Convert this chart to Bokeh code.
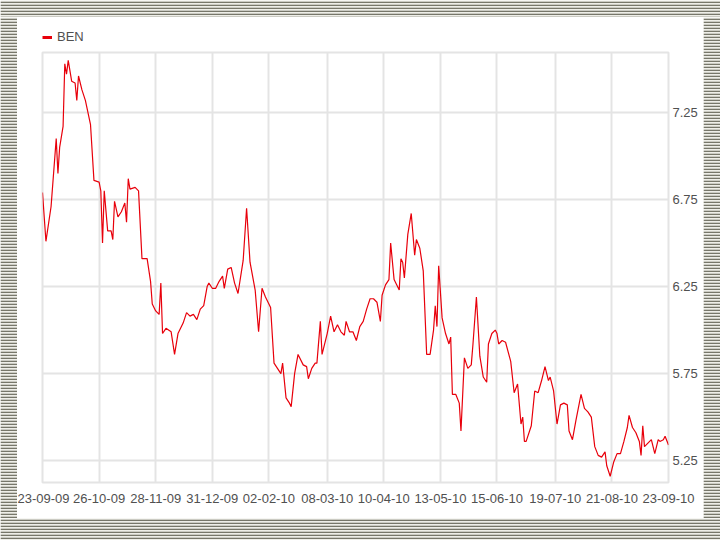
import pandas as pd
from bokeh.plotting import figure
from bokeh.layouts import column, row
from bokeh.models import (Range1d, FixedTicker, DatetimeTickFormatter, Legend, LegendItem,
                          BoxAnnotation, ColumnDataSource, PrintfTickFormatter)
from bokeh.embed import file_html
from bokeh.resources import INLINE

# ---- data ----
start_date = "2009-09-23"
end_date = "2010-09-23"
day_offsets = [0, 2, 5, 8, 9, 10, 12, 13, 14, 15, 17, 19, 20, 21, 23, 25, 28, 30, 33, 34,
               35, 36, 38, 40, 41, 42, 44, 46, 48, 49, 50, 51, 54, 56, 58, 61, 63, 64, 66, 68,
               69, 70, 72, 75, 77, 79, 82, 84, 86, 88, 90, 92, 94, 96, 97, 99, 101, 103, 105, 106,
               108, 110, 112, 114, 117, 119, 121, 124, 126, 128, 130, 133, 135, 137, 139, 140, 142, 144, 145, 147,
               149, 152, 154, 155, 157, 159, 160, 162, 163, 166, 168, 170, 172, 174, 176, 177, 179, 181, 183, 185,
               187, 189, 191, 193, 195, 197, 198, 200, 202, 203, 205, 208, 209, 210, 211, 213, 215, 217, 218, 220,
               222, 224, 226, 228, 229, 230, 231, 233, 235, 237, 238, 239, 241, 243, 244, 246, 248, 250, 251, 253,
               255, 257, 259, 260, 262, 264, 265, 266, 268, 270, 273, 275, 277, 279, 280, 281, 282, 285, 287, 289,
               291, 293, 295, 296, 298, 300, 302, 304, 306, 307, 309, 311, 314, 316, 318, 320, 322, 324, 326, 328,
               329, 331, 333, 335, 337, 339, 341, 342, 344, 346, 348, 349, 350, 351, 353, 355, 357, 359, 360, 362,
               363, 365]
ben_values = [6.79, 6.51, 6.71, 7.10, 6.90, 7.05, 7.17, 7.53, 7.47, 7.55, 7.43, 7.42, 7.32, 7.46, 7.38, 7.32, 7.18, 6.86, 6.85, 6.80,
              6.50, 6.80, 6.57, 6.57, 6.52, 6.74, 6.65, 6.68, 6.73, 6.62, 6.87, 6.81, 6.82, 6.80, 6.41, 6.41, 6.28, 6.15, 6.11, 6.09,
              6.27, 5.98, 6.01, 5.99, 5.86, 5.98, 6.04, 6.10, 6.08, 6.09, 6.06, 6.12, 6.14, 6.25, 6.27, 6.24, 6.24, 6.28, 6.31, 6.24,
              6.35, 6.36, 6.27, 6.21, 6.40, 6.70, 6.39, 6.23, 5.99, 6.24, 6.19, 6.13, 5.81, 5.78, 5.75, 5.81, 5.61, 5.58, 5.56, 5.75,
              5.86, 5.80, 5.79, 5.72, 5.78, 5.81, 5.81, 6.05, 5.86, 5.98, 6.08, 5.99, 6.03, 5.99, 5.97, 6.05, 5.99, 5.99, 5.94, 6.02,
              6.05, 6.12, 6.18, 6.18, 6.16, 6.05, 6.20, 6.26, 6.29, 6.50, 6.29, 6.23, 6.41, 6.39, 6.30, 6.55, 6.67, 6.43, 6.52, 6.47,
              6.34, 5.86, 5.86, 6.00, 6.14, 6.02, 6.37, 6.07, 5.98, 5.92, 5.96, 5.63, 5.63, 5.58, 5.42, 5.84, 5.78, 5.80, 5.92, 6.19,
              5.85, 5.73, 5.70, 5.92, 5.98, 6.00, 5.98, 5.92, 5.94, 5.93, 5.82, 5.64, 5.69, 5.46, 5.50, 5.36, 5.36, 5.45, 5.65, 5.64,
              5.71, 5.79, 5.71, 5.73, 5.65, 5.46, 5.57, 5.58, 5.57, 5.42, 5.37, 5.48, 5.63, 5.55, 5.53, 5.50, 5.33, 5.28, 5.27, 5.30,
              5.22, 5.16, 5.24, 5.29, 5.29, 5.36, 5.44, 5.51, 5.44, 5.41, 5.36, 5.28, 5.45, 5.33, 5.35, 5.37, 5.29, 5.37, 5.36, 5.37,
              5.39, 5.34]
tick_dates = ["2009-09-23", "2009-10-26", "2009-11-28", "2009-12-31", "2010-02-02", "2010-03-08",
              "2010-04-10", "2010-05-13", "2010-06-15", "2010-07-19", "2010-08-21", "2010-09-23"]
y_ticks = [5.25, 5.75, 6.25, 6.75, 7.25]
series_name = "BEN"

# ---- styling constants ----
FONT = "Liberation Sans"
LINE_RED = "#e8000b"
GRID = "#e4e4e4"
LABEL = "#505050"
STRIPE_LIGHT = "#eeeee8"
STRIPE_DARK = "#77776a"

# ---- main chart ----
dates = pd.Timestamp(start_date) + pd.to_timedelta(day_offsets, unit="D")
src = ColumnDataSource(dict(date=dates, value=ben_values))
tick_ms = [pd.Timestamp(d).value // 10**6 for d in tick_dates]

p = figure(width=686, height=467, x_axis_type="datetime",
           x_range=Range1d(pd.Timestamp(start_date), pd.Timestamp(end_date)),
           y_range=Range1d(5.124, 7.595), y_axis_location="right",
           output_backend="svg", toolbar_location=None,
           min_border_left=25, min_border_right=35, min_border_top=1, min_border_bottom=36)

p.background_fill_color = "white"
p.border_fill_color = "white"
p.outline_line_color = GRID
p.outline_line_width = 2

p.xaxis.ticker = FixedTicker(ticks=tick_ms)
p.xaxis.formatter = DatetimeTickFormatter(days="%d-%m-%y", months="%d-%m-%y", years="%d-%m-%y")
p.yaxis.ticker = FixedTicker(ticks=y_ticks)
p.yaxis.formatter = PrintfTickFormatter(format="%.2f")
for ax in (p.xaxis, p.yaxis):
    ax.axis_line_color = None
    ax.major_tick_line_color = None
    ax.minor_tick_line_color = None
    ax.major_tick_out = 0
    ax.major_tick_in = 0
    ax.minor_tick_out = 0
    ax.minor_tick_in = 0
    ax.major_label_text_font = FONT
    ax.major_label_text_font_size = "13px"
    ax.major_label_text_color = LABEL
p.xaxis.major_label_standoff = 11
p.yaxis.major_label_standoff = 4

p.xgrid.grid_line_color = GRID
p.xgrid.grid_line_width = 2
p.ygrid.grid_line_color = GRID
p.ygrid.grid_line_width = 2

p.line("date", "value", source=src, line_color=LINE_RED, line_width=1.2)

# ---- header strip holding the legend ----
header = figure(width=686, height=34, x_range=Range1d(0, 1), y_range=Range1d(0, 1),
                x_axis_location=None, y_axis_location=None,
                output_backend="svg", toolbar_location=None, min_border=0)
header.grid.grid_line_color = None
header.outline_line_color = None
header.background_fill_color = "white"
header.border_fill_color = "white"
# same series, drawn off-range here; it only supplies the legend swatch
legend_glyph = header.line("date", "value", source=src, line_color=LINE_RED, line_width=3)
legend = Legend(items=[LegendItem(label=series_name, renderers=[legend_glyph])],
                location=(0, 7), margin=0, padding=0, spacing=0,
                glyph_width=10, glyph_height=12, label_standoff=5,
                label_text_font=FONT, label_text_font_size="13px", label_text_color=LABEL,
                border_line_alpha=0, background_fill_alpha=0)
header.add_layout(legend, "center")


# ---- striped frame around the white panel ----
def stripe_band(w, h):
    f = figure(width=w, height=h, x_range=Range1d(0, 1), y_range=Range1d(0, 1),
               x_axis_location=None, y_axis_location=None,
               output_backend="svg", toolbar_location=None, min_border=0)
    f.grid.grid_line_color = None
    f.outline_line_color = None
    f.background_fill_color = STRIPE_LIGHT
    f.border_fill_color = STRIPE_LIGHT
    f.add_layout(BoxAnnotation(fill_alpha=0, line_color=None,
                               hatch_pattern="horizontal_line", hatch_color=STRIPE_DARK,
                               hatch_scale=3, hatch_weight=1.6, hatch_alpha=1.0))
    return f


layout = column(
    stripe_band(720, 17),
    row(stripe_band(17, 501), column(header, p, spacing=0), stripe_band(17, 501), spacing=0),
    stripe_band(720, 22),
    spacing=0,
)

open("out.html", "w").write(file_html(layout, INLINE))
